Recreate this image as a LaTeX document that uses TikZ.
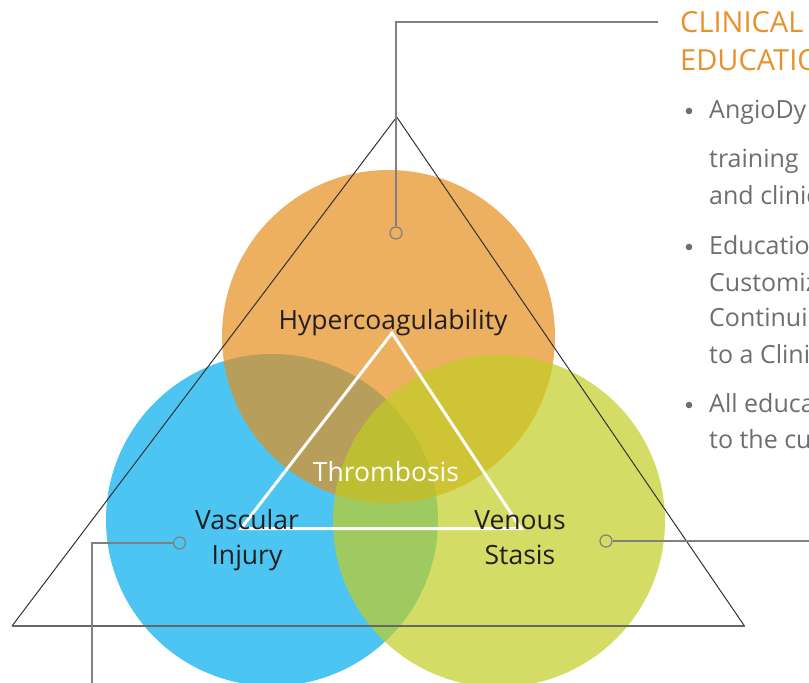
\documentclass[tikz,border=0pt]{standalone}
\usepackage{fontspec}
\setmainfont{Open Sans}
\definecolor{cblue}{RGB}{77,197,242}
\definecolor{corange}{RGB}{229,142,28}
\definecolor{cgreen}{RGB}{194,205,35}
\definecolor{darktext}{RGB}{35,31,32}
\definecolor{graytext}{RGB}{109,110,113}
\definecolor{headorange}{RGB}{232,145,42}
\definecolor{leadergray}{RGB}{128,128,128}
\definecolor{tri}{RGB}{50,50,50}
\tikzset{
  leader/.style={draw=leadergray, line width=1.4pt},
  dot/.style={circle, draw=leadergray, line width=1.2pt, minimum size=12pt, inner sep=0pt},
  label/.style={font=\fontsize{26.5}{30}\selectfont, text=darktext, anchor=base, align=center},
  bullettxt/.style={font=\fontsize{25}{29}\selectfont, text=graytext, anchor=base west, inner sep=0pt},
  headtxt/.style={font=\fontsize{29}{32}\selectfont, text=headorange, anchor=base west, inner sep=0pt},
}
\begin{document}
\begin{tikzpicture}[x=1pt,y=-1pt]
\useasboundingbox (0,0) rectangle (809,683);
\clip (0,0) rectangle (809,683);
% circles
\fill[cblue] (272,520) circle (166pt);
\fill[corange, opacity=0.7] (388.5,336.5) circle (166.5pt);
\fill[cgreen, opacity=0.7] (499,521) circle (166pt);
% big triangle
\coordinate (TA) at (396.7,117);
\coordinate (TL) at (12,626);
\coordinate (TR) at (744.5,626);
\draw[tri, line width=1pt, line join=miter] (TA) -- (TR);
\draw[tri, line width=1pt] (TA) -- (TL);
\draw[draw=leadergray!80!black, line width=1.4pt] (TL) -- (TR);
% leader lines
\node[dot] (d1) at (396,233) {};
\node[dot] (d2) at (179.5,543) {};
\node[dot] (d3) at (606,541) {};
\coordinate (c1a) at (396,22);
\coordinate (c1b) at (658,22);
\coordinate (c2a) at (92,543);
\coordinate (c2b) at (92,683);
\coordinate (c3a) at (809,541);
\draw[leader] (d1) -- (c1a) -- (c1b);
\draw[leader] (d2) -- (c2a) -- (c2b);
\draw[leader] (d3) -- (c3a);
% inner white triangle
\coordinate (WA) at (392,333);
\coordinate (WL) at (241,528.5);
\coordinate (WR) at (521,528.5);
\draw[white, line width=3pt, line join=miter] (WA) -- (WR) -- (WL) -- cycle;
% labels
\node[label] (hyp) at (393,329) {Hypercoagulability};
\node[label, text=white] (thr) at (386,481) {Thrombosis};
\node[label] (vas) at (247,529) {Vascular};
\node[label] (inj) at (247,564) {Injury};
\node[label] (ven) at (520,529) {Venous};
\node[label] (sta) at (520,564) {Stasis};
% right column
\node[headtxt] (h1) at (680,32) {CLINICAL};
\node[headtxt] (h2) at (680,70) {EDUCATIO};
\foreach \yy in {118,254,412}{
  \fill[graytext] (689,\yy-7) circle (3.3pt);
}
\node[bullettxt] (b1) at (709,118) {AngioDy};
\node[bullettxt] (b2) at (709,167) {training};
\node[bullettxt] (b3) at (709,204) {and clinic};
\node[bullettxt] (b4) at (709,254) {Educatio};
\node[bullettxt] (b5) at (709,291) {Customiz};
\node[bullettxt] (b6) at (709,326) {Continui};
\node[bullettxt] (b7) at (709,363) {to a Clini};
\node[bullettxt] (b8) at (709,412) {All educa};
\node[bullettxt] (b9) at (709,448) {to the cu};
\end{tikzpicture}
\end{document}
